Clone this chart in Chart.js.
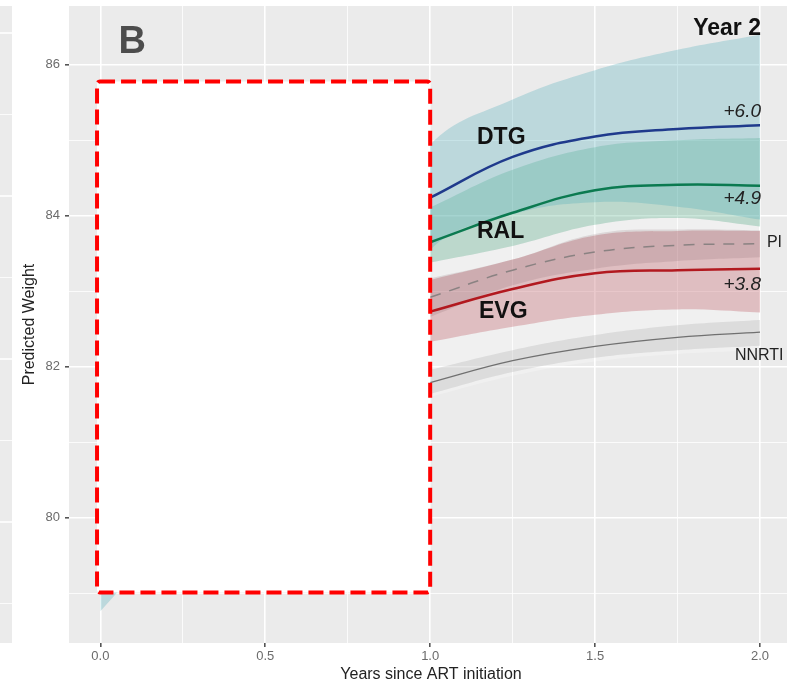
<!DOCTYPE html>
<html>
<head>
<meta charset="utf-8">
<script src="https://cdn.jsdelivr.net/npm/chart.js@4.4.1/dist/chart.umd.min.js"></script>
<style>
  html, body { margin: 0; padding: 0; background: #ffffff; overflow: hidden; }
  #wrap { width: 800px; height: 685px; }
</style>
</head>
<body>
<div id="wrap"><canvas id="c" width="800" height="685"></canvas></div>
<script>
// ---------- data ----------
const years        = [1, 1.25, 1.5, 1.75, 2];
const dtgBandYears = [0, 1, 1.25, 1.5, 1.75, 2];

const dtgMean  = [84.24, 84.78, 85.05, 85.15, 85.20];
const dtgUpper = [79.80, 84.94, 85.54, 85.93, 86.20, 86.40];
const dtgLower = [78.76, 83.55, 84.02, 84.18, 84.12, 83.95];

const ralMean  = [83.65, 84.04, 84.34, 84.41, 84.40];
const ralUpper = [84.11, 84.61, 84.91, 85.00, 85.03];
const ralLower = [83.38, 83.60, 83.88, 83.97, 83.86];

const piMean   = [82.92, 83.28, 83.52, 83.61, 83.63];
const piUpper  = [83.17, 83.42, 83.76, 83.82, 83.81];
const piLower  = [82.66, 83.08, 83.30, 83.40, 83.45];
const piOuterUpper = [83.38, 83.60, 83.88, 83.97, 83.86];
const piOuterLower = [81.60, 81.88, 82.07, 82.17, 82.22];

const evgMean  = [82.73, 83.03, 83.24, 83.28, 83.30];
const evgUpper = [83.15, 83.42, 83.74, 83.80, 83.80];
const evgLower = [82.33, 82.53, 82.69, 82.76, 82.72];

const nnrtiMean  = [81.79, 82.08, 82.27, 82.39, 82.46];
const nnrtiUpper = [81.96, 82.22, 82.42, 82.55, 82.62];
const nnrtiLower = [81.64, 81.93, 82.12, 82.22, 82.28];

const xTicks = [0, 0.25, 0.5, 0.75, 1, 1.25, 1.5, 1.75, 2];
const xTickLabels = ['0.0', '', '0.5', '', '1.0', '', '1.5', '', '2.0'];
const yTicks = [79, 80, 81, 82, 83, 84, 85, 86];
const yTickLabels = ['', '80', '', '82', '', '84', '', '86'];

// masked region (first year) in data units
const maskX = [-0.01, 1.0];
const maskY = [79.01, 85.78];

// text annotations: text, x, y (data units)
const noteText = ['B', 'Year 2', 'DTG', 'RAL', 'EVG', '+6.0', '+4.9', '+3.8', 'PI', 'NNRTI'];
const noteX    = [0.055, 2.003, 1.142, 1.142, 1.148, 2.003, 2.003, 2.003, 2.021, 1.924];
const noteY    = [86.16, 86.40, 84.95, 83.71, 82.65, 85.31, 84.16, 83.02, 83.59, 82.09];

// ---------- styles ----------
const FONT = '"Liberation Sans", Arial, Helvetica, sans-serif';
const noteStyle = [
  {font: 'bold 38px ' + FONT, color: '#4d4d4d', align: 'left'},
  {font: 'bold 23px ' + FONT, color: '#111111', align: 'right'},
  {font: 'bold 23px ' + FONT, color: '#111111', align: 'left'},
  {font: 'bold 23px ' + FONT, color: '#111111', align: 'left'},
  {font: 'bold 23px ' + FONT, color: '#111111', align: 'left'},
  {font: 'italic 19px ' + FONT, color: '#222222', align: 'right'},
  {font: 'italic 19px ' + FONT, color: '#222222', align: 'right'},
  {font: 'italic 19px ' + FONT, color: '#222222', align: 'right'},
  {font: '16px ' + FONT, color: '#222222', align: 'left'},
  {font: '16px ' + FONT, color: '#222222', align: 'left'}
];

function pts(xs, ys) { return xs.map((x, i) => ({x: x, y: ys[i]})); }

function band(label, xs, lo, hi, color, order) {
  return [
    {label: label + ' lo', data: pts(xs, lo), borderWidth: 0, pointRadius: 0, fill: false, order: order},
    {label: label + ' hi', data: pts(xs, hi), borderWidth: 0, pointRadius: 0, fill: '-1', backgroundColor: color, order: order}
  ];
}
function line(label, xs, ys, color, width, dash, order) {
  return {label: label, data: pts(xs, ys), borderColor: color, borderWidth: width, borderDash: dash || [],
          pointRadius: 0, fill: false, order: order, borderCapStyle: 'butt'};
}

const datasets = [].concat(
  band('light', years, piOuterLower, piOuterUpper, 'rgba(255,255,255,0.26)', 100),
  band('NNRTI', years, nnrtiLower, nnrtiUpper, 'rgba(140,140,140,0.20)', 90),
  band('EVG', years, evgLower, evgUpper, 'rgba(185,75,85,0.30)', 80),
  band('PI', years, piLower, piUpper, 'rgba(110,75,80,0.15)', 70),
  band('RAL', years, ralLower, ralUpper, 'rgba(78,172,132,0.30)', 60),
  band('DTG', dtgBandYears, dtgLower, dtgUpper, 'rgba(78,172,185,0.30)', 50),
  [
    line('NNRTI', years, nnrtiMean, '#707070', 1.3, null, 40),
    line('PI', years, piMean, '#8a8282', 1.5, [11, 9], 30),
    line('EVG', years, evgMean, '#b2191f', 2.5, null, 20),
    line('RAL', years, ralMean, '#0b7a50', 2.5, null, 10),
    line('DTG', years, dtgMean, '#1f3a8c', 2.5, null, 5)
  ]
);

const decor = {
  id: 'decor',
  beforeDraw(chart) {
    const {ctx, chartArea: a} = chart;
    ctx.save();
    ctx.fillStyle = '#EBEBEB';
    ctx.fillRect(a.left, a.top, a.right - a.left, a.bottom - a.top);
    // fragment of the neighbouring panel at the far left
    ctx.fillRect(0, a.top, 12, a.bottom - a.top);
    ctx.strokeStyle = '#ffffff';
    for (let i = 0; i < 8; i++) {
      const yy = a.top + 27 + i * 81.5;
      ctx.lineWidth = (i % 2 === 0) ? 1.6 : 0.8;
      ctx.beginPath(); ctx.moveTo(0, yy); ctx.lineTo(12, yy); ctx.stroke();
    }
    ctx.restore();
  },
  afterDatasetsDraw(chart) {
    const {ctx, scales: {x, y}} = chart;
    ctx.save();
    const x0 = x.getPixelForValue(maskX[0]), x1 = x.getPixelForValue(maskX[1]);
    const y0 = y.getPixelForValue(maskY[1]), y1 = y.getPixelForValue(maskY[0]);
    ctx.beginPath();
    ctx.roundRect(x0, y0, x1 - x0, y1 - y0, 3);
    ctx.fillStyle = '#ffffff';
    ctx.fill();
    ctx.setLineDash([15, 6]);
    ctx.lineWidth = 4;
    ctx.strokeStyle = '#ff0000';
    ctx.lineJoin = 'round';
    ctx.stroke();
    ctx.setLineDash([]);
    for (let i = 0; i < noteText.length; i++) {
      const st = noteStyle[i];
      ctx.font = st.font;
      ctx.fillStyle = st.color;
      ctx.textAlign = st.align;
      ctx.textBaseline = 'alphabetic';
      ctx.fillText(noteText[i], x.getPixelForValue(noteX[i]), y.getPixelForValue(noteY[i]));
    }
    ctx.restore();
  }
};

const majorX = v => xTickLabels[xTicks.indexOf(v)] !== '';
const majorY = v => yTickLabels[yTicks.indexOf(v)] !== '';

new Chart(document.getElementById('c'), {
  type: 'line',
  data: {datasets: datasets},
  options: {
    responsive: false,
    animation: false,
    devicePixelRatio: 1,
    layout: {padding: {left: 0, right: 7, top: 6, bottom: 0}},
    plugins: {legend: {display: false}, tooltip: {enabled: false}},
    elements: {line: {tension: 0.4}},
    scales: {
      x: {
        type: 'linear', min: -0.095, max: 2.1,
        afterBuildTicks: s => { s.ticks = xTicks.map(v => ({value: v})); },
        afterFit: s => { s.height = 42; s.paddingLeft = 0; s.paddingRight = 0; },
        border: {display: false},
        grid: {
          color: '#ffffff',
          lineWidth: c => (c.tick && majorX(c.tick.value)) ? 1.6 : 0.8,
          tickColor: c => (c.tick && majorX(c.tick.value)) ? '#555555' : 'rgba(0,0,0,0)',
          tickLength: 4
        },
        ticks: {
          autoSkip: false, maxRotation: 0, padding: 2,
          color: '#6b6b6b', font: {family: FONT, size: 13},
          callback: v => { const i = xTicks.indexOf(v); return i >= 0 ? xTickLabels[i] : ''; }
        },
        title: {display: true, text: 'Years since ART initiation', color: '#222222',
                font: {family: FONT, size: 16}, padding: {top: 0, bottom: 1}}
      },
      y: {
        type: 'linear', min: 78.34, max: 86.78,
        afterBuildTicks: s => { s.ticks = yTicks.map(v => ({value: v})); },
        afterFit: s => { s.width = 69; s.paddingTop = 0; s.paddingBottom = 0; },
        border: {display: false},
        grid: {
          color: '#ffffff',
          lineWidth: c => (c.tick && majorY(c.tick.value)) ? 1.6 : 0.8,
          tickColor: c => (c.tick && majorY(c.tick.value)) ? '#555555' : 'rgba(0,0,0,0)',
          tickLength: 4
        },
        ticks: {
          autoSkip: false, padding: 5,
          color: '#6b6b6b', font: {family: FONT, size: 13},
          callback: v => { const i = yTicks.indexOf(v); return i >= 0 ? yTickLabels[i] : ''; }
        },
        title: {display: true, text: 'Predicted Weight', color: '#222222',
                font: {family: FONT, size: 16}, padding: {top: 20, bottom: 0}}
      }
    }
  },
  plugins: [decor]
});
</script>
</body>
</html>
